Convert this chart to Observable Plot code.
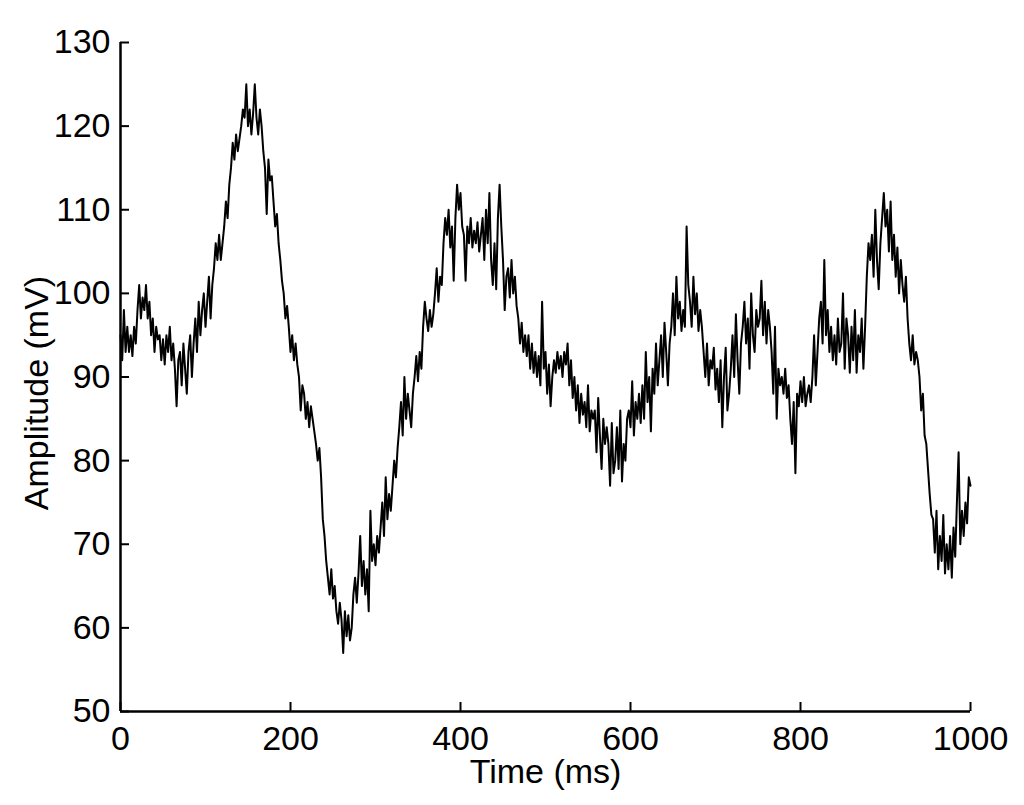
<!DOCTYPE html>
<html>
<head>
<meta charset="utf-8">
<script src="https://cdn.jsdelivr.net/npm/d3@7"></script>
<script src="https://cdn.jsdelivr.net/npm/@observablehq/plot@0.6"></script>
<style>
  html, body { margin: 0; padding: 0; background: #fff; }
  #chart svg { display: block; }
</style>
</head>
<body>
<div id="chart"></div>
<script>
// Sampling interval of the recording (ms)
const sampleInterval = 2;

// Amplitude readings (mV), one every 2 ms from 0 to 1000 ms
const amplitude = [
  95, 92, 98, 93,
  96, 93, 95, 92.5, 96, 94,
  98, 101, 97, 99.5, 98, 101, 97,
  99, 95, 97, 93, 96, 94.5,
  95, 92, 94.5, 91.5, 95, 93, 96, 92, 94,
  91, 86.5, 92,
  93, 89, 94, 91, 88, 93, 95, 90,
  94, 97, 93, 99, 95, 98, 100, 96,
  99, 102, 97, 101,
  103, 106, 104, 107, 104, 106,
  108, 111, 109, 113,
  115, 118, 116, 119, 117, 118.5,
  120, 122, 121, 125, 120, 122, 119, 121.5,
  125, 121, 119, 122,
  120,
  117, 115, 109.5, 116, 113.5, 114,
  111, 108, 109.5, 106,
  104, 101.5,
  100, 97, 98.5,
  96, 93, 95, 92, 94, 91.5,
  90, 86, 89,
  88, 85, 87, 84, 86.5, 85, 83.5,
  82, 80, 81.5,
  78, 73,
  71, 68,
  66, 64, 67, 63.5, 65,
  62, 60.5, 63,
  61, 57, 62,
  59, 61.5, 58.5, 60,
  64, 66, 63, 66.5, 71,
  65, 68, 64, 67, 62,
  74, 68, 70, 67.5, 71, 69,
  72, 75, 71, 78, 73, 76, 74,
  77, 80, 78, 81.5,
  84, 87, 83, 90, 85, 88, 86,
  84, 88,
  90, 92.5, 89.5, 93, 91,
  96, 99, 97,
  95.5, 98, 96, 97.5,
  100, 103, 99, 102, 101,
  106, 109, 107, 110, 105.5, 108, 101.5,
  109, 113, 110, 112, 108,
  107, 101.5, 108, 106, 109, 105.5, 107.5, 106, 108.5, 105, 107,
  109, 104, 110, 106,
  112, 104, 101, 106, 100.5,
  109, 113, 108,
  104, 98, 102,
  103, 99.5, 104, 100, 102, 98.5,
  97, 94, 96.5, 93, 95, 92.5,
  95, 91, 94, 90.5,
  93, 90, 92.5, 89, 99, 91, 93,
  88, 91.5, 86.5, 90,
  92, 90.5, 93, 91, 92.5, 90, 93, 91.5,
  94, 89, 92, 87.5,
  90, 86, 89, 84.5, 88, 85.5,
  87, 84, 89, 83.5, 86, 85,
  86, 81, 87.5, 83, 79, 85, 82, 84,
  82, 77, 84.5, 78.5, 80,
  84, 79, 86, 77.5, 82, 80, 85,
  86, 84, 89.5, 83, 87, 85, 88, 84.5,
  89, 85, 93, 87, 90, 83.5, 91, 88, 94, 89,
  92, 95, 90, 96.5, 93, 89, 94,
  96, 100, 95, 102, 97, 99, 95.5, 98, 96,
  108,
  101,
  99, 96, 102, 97.5, 100, 95.5, 98, 96,
  93, 90, 94, 89, 92, 91, 93.5, 88.5, 91,
  87, 92, 84, 90, 93.5, 86, 88, 91,
  95, 90, 97.5, 92, 88, 94, 96,
  99, 94, 97, 91, 100, 95, 93, 98, 96,
  97, 101.5, 95, 99, 94, 98, 96,
  93, 88, 96, 85, 91, 89,
  90, 88, 91, 87.5, 89,
  85, 82, 87, 78.5,
  88, 86.5, 89.5, 87, 90, 86.5, 88, 89, 87,
  90, 95, 89, 93,
  97, 99, 94, 104, 95, 98, 93,
  96, 92, 95, 91.5, 97, 93,
  94, 100, 91, 97, 95, 90.5,
  96, 92, 98, 90.5, 95, 93, 97, 91, 96,
  102, 106, 104,
  107, 102, 110, 104, 100.5, 106, 109,
  112, 108, 110, 105, 111, 104,
  107, 102, 105.5, 100, 104, 101,
  99, 102, 97,
  94, 92, 95, 91.5, 93, 92,
  90, 86, 88, 83, 82,
  79, 76, 73.5,
  73, 69, 74, 67, 71, 68, 73.5, 66.5, 70,
  67, 71, 66, 72, 68.5,
  75, 81, 70,
  74, 71, 75, 72.5,
  78, 77
];

// Axis ticks
const xTicks = [0, 200, 400, 600, 800, 1000];
const yTicks = [50, 60, 70, 80, 90, 100, 110, 120, 130];
const xDomain = [0, 1000];
const yDomain = [50, 130];
const xLabel = "Time (ms)";
const yLabel = "Amplitude (mV)";

const data = amplitude.map((v, i) => ({t: i * sampleInterval, v}));

const font = "'Liberation Sans', Helvetica, Arial, sans-serif";

const chart = Plot.plot({
  width: 1024,
  height: 805,
  marginLeft: 120,
  marginRight: 54,
  marginTop: 42,
  marginBottom: 94,
  style: {fontFamily: font, background: "#fff", color: "#000"},
  x: {domain: xDomain},
  y: {domain: yDomain},
  marks: [
    Plot.line(data, {x: "t", y: "v", stroke: "#000", strokeWidth: 2}),
    // tick labels
    Plot.axisX(xTicks, {tickSize: 0, tickPadding: 14, fontSize: 34, tickFormat: "d", label: null, fill: "#000"}),
    Plot.axisY(yTicks, {tickSize: 0, tickPadding: 10, fontSize: 34, tickFormat: "d", label: null, fill: "#000"}),
    // inward tick marks
    Plot.ruleX(xTicks, {x: (d) => d, y1: yDomain[0], y2: yDomain[0], insetTop: -9, stroke: "#000", strokeWidth: 2}),
    Plot.ruleY(yTicks, {y: (d) => d, x1: xDomain[0], x2: xDomain[0], insetRight: -9, stroke: "#000", strokeWidth: 2}),
    // axis lines
    Plot.ruleX([xDomain[0]], {stroke: "#000", strokeWidth: 2.5}),
    Plot.ruleY([yDomain[0]], {stroke: "#000", strokeWidth: 2.5}),
    // axis titles
    Plot.text([xLabel], {frameAnchor: "bottom", textAnchor: "middle", lineAnchor: "middle", dy: 61, fontSize: 34, fill: "#000"}),
    Plot.text([yLabel], {frameAnchor: "left", textAnchor: "middle", lineAnchor: "middle", dx: -83, dy: 16, rotate: -90, fontSize: 34, fill: "#000"})
  ]
});

document.getElementById("chart").appendChild(chart);
</script>
</body>
</html>
